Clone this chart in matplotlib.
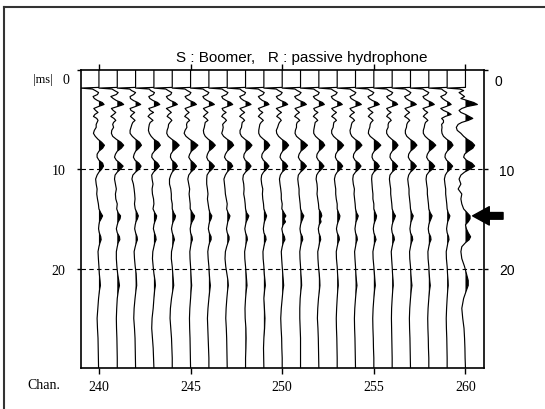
import numpy as np
import matplotlib
matplotlib.use("Agg")
import matplotlib.pyplot as plt
from matplotlib.lines import Line2D

plt.rcParams["font.family"] = ["Liberation Sans", "DejaVu Sans"]

# sample times (ms) shared by all traces
t_ms = [0.0, 1.78, 1.85, 1.95, 2.1, 2.3, 2.5, 2.7, 2.9, 3.1,
        3.3, 3.5, 3.7, 3.9, 4.1, 4.3, 4.5, 4.7, 4.9, 5.1,
        5.3, 5.5, 5.8, 6.1, 6.4, 6.7, 7.0, 7.3, 7.6, 7.9,
        8.2, 8.5, 8.8, 9.1, 9.4, 9.7, 10.0, 10.3, 10.6, 11.0,
        11.5, 12.0, 12.5, 13.0, 13.5, 14.0, 14.4, 14.7, 15.0, 15.3,
        15.6, 16.0, 16.4, 16.8, 17.1, 17.4, 17.8, 18.3, 19.0, 19.8,
        20.5, 21.2, 21.7, 22.2, 23.0, 24.0, 25.0, 26.0, 27.0, 28.0,
        29.0, 30.0]

# trace amplitudes in hundredths of a channel spacing
trace_240 = [0, 0, -100, -35, -20, -2, -8, -32, -25, -8,
             18, 28, -2, -28, -18, -5, -22, -30, -12, -5,
             -10, -15, -15, -25, -30, -20, -5, 15, 30, 20,
             0, -10, -10, 0, 20, 25, 15, 0, -10, -18,
             -15, -10, -12, -8, -3, 0, 10, 20, 12, 3,
             0, -2, 2, 10, 12, 6, 0, -5, -3, 0,
             2, 6, 8, 3, -2, -6, -10, -8, -5, -4,
             -3, -2]
trace_241 = [0, 0, -100, -28, -15, 5, -5, -35, -22, -5,
             22, 35, 2, -32, -22, -8, -20, -35, -18, -8,
             -20, -25, -20, -30, -32, -25, -5, 20, 35, 22,
             0, -10, -15, -5, 15, 32, 18, 0, -12, -15,
             -10, -5, -10, -8, 0, -3, 5, 18, 15, 5,
             0, -5, 0, 12, 14, 5, 0, -5, -5, -2,
             2, 8, 12, 6, 0, -3, -5, -4, -2, -1,
             0, 0]
trace_242 = [0, 0, -100, -32, -22, 0, -10, -30, -28, -12,
             12, 28, 0, -30, -25, -5, -18, -28, -15, -3,
             -15, -20, -25, -30, -30, -18, 0, 22, 32, 18,
             0, -8, -12, -3, 18, 30, 20, 0, -15, -20,
             -12, -8, -5, -3, -6, -2, 8, 15, 10, 2,
             -2, -5, 0, 8, 10, 4, -2, -8, -6, -2,
             3, 5, 6, 2, -3, -8, -10, -6, -3, -2,
             -1, 0]
trace_243 = [0, 0, -100, -25, -18, 3, -3, -28, -22, -5,
             20, 32, 5, -28, -20, -2, -22, -32, -18, -5,
             -20, -25, -28, -30, -25, -15, 0, 25, 35, 20,
             2, -10, -12, 0, 20, 30, 15, -2, -12, -10,
             -5, -10, -8, -2, 0, -5, 5, 15, 12, 5,
             0, -3, 3, 10, 12, 5, 0, -6, -8, -4,
             0, 6, 8, 4, 0, -4, -10, -12, -8, -4,
             -2, 0]
trace_244 = [0, 0, -100, -35, -22, -3, -8, -32, -25, -10,
             15, 28, -2, -32, -18, -5, -20, -28, -12, -2,
             -12, -20, -22, -28, -30, -22, -2, 22, 38, 22,
             3, -8, -10, -2, 18, 28, 15, 0, -8, -15,
             -15, -8, -5, -5, 0, 0, 8, 18, 14, 5,
             0, -4, 0, 8, 12, 6, 2, -4, -5, 0,
             3, 6, 8, 3, -4, -10, -12, -8, -4, -2,
             0, 0]
trace_245 = [0, 0, -100, -30, -18, 2, -5, -30, -22, -5,
             20, 32, 0, -30, -22, -8, -22, -32, -15, -5,
             -18, -22, -20, -30, -35, -25, -5, 20, 40, 25,
             5, -5, -10, 0, 18, 32, 20, 2, -10, -15,
             -10, -5, -8, -5, -2, -2, 10, 22, 18, 8,
             2, -2, 0, 8, 10, 4, 0, -4, -3, 0,
             2, 4, 6, 3, 0, -4, -6, -5, -3, -2,
             -1, 0]
trace_246 = [0, 0, -100, -32, -20, 0, -8, -33, -26, -10,
             15, 30, -2, -30, -20, -5, -18, -30, -15, -5,
             -20, -22, -25, -30, -28, -20, -3, 20, 35, 20,
             0, -8, -12, -5, 15, 30, 18, 0, -10, -12,
             -12, -8, -5, -8, -4, 0, 6, 16, 12, 4,
             0, -3, 2, 12, 12, 4, -2, -6, -4, 0,
             2, 5, 8, 5, 0, -5, -8, -6, -4, -2,
             0, 0]
trace_247 = [0, 0, -100, -28, -16, 4, -4, -30, -24, -6,
             18, 30, 2, -28, -22, -6, -22, -30, -14, -4,
             -15, -25, -22, -25, -30, -20, 0, 25, 35, 18,
             0, -10, -15, -5, 20, 30, 15, 0, -10, -18,
             -15, -12, -10, -5, 0, -3, 5, 15, 10, 3,
             0, -4, 0, 10, 10, 4, -3, -10, -12, -8,
             -2, 4, 6, 2, -2, -6, -8, -5, -3, -2,
             -1, 0]
trace_248 = [0, 0, -100, -30, -20, 0, -6, -32, -25, -10,
             16, 30, 0, -30, -20, -5, -20, -32, -15, -5,
             -18, -20, -22, -30, -30, -22, -3, 20, 35, 22,
             2, -8, -10, -2, 18, 30, 18, 0, -12, -15,
             -10, -8, -10, -5, -2, 0, 6, 18, 12, 4,
             0, -4, 0, 8, 10, 4, 0, -5, -4, 0,
             3, 6, 8, 4, 0, -3, -2, 2, 3, 2,
             0, 0]
trace_249 = [0, 0, -100, -30, -18, 2, -5, -30, -22, -8,
             18, 28, -2, -30, -22, -6, -20, -30, -15, -3,
             -15, -22, -25, -28, -28, -20, -2, 20, 32, 20,
             0, -10, -12, -3, 15, 28, 15, -2, -12, -15,
             -12, -6, -8, -6, -2, 0, 8, 15, 10, 3,
             0, -3, 0, 10, 12, 5, 0, -5, -4, 0,
             2, 6, 8, 4, 0, 3, 6, 4, 0, -2,
             -1, 0]
trace_250 = [0, 0, -100, -32, -20, 0, -8, -32, -25, -8,
             18, 30, 0, -32, -20, -4, -20, -30, -14, -5,
             -15, -20, -25, -32, -30, -20, -2, 22, 35, 22,
             2, -8, -12, -3, 18, 30, 18, 0, -10, -15,
             -12, -8, -5, -5, 0, -2, 10, 20, 10, 18,
             5, -2, 2, 12, 15, 6, 0, -5, -3, 0,
             3, 6, 8, 4, 0, -5, -8, -6, -3, -2,
             0, 0]
trace_251 = [0, 0, -100, -30, -18, 3, -6, -32, -24, -6,
             20, 32, 2, -30, -20, -6, -22, -32, -15, -4,
             -18, -22, -22, -28, -30, -22, -3, 20, 38, 22,
             2, -8, -12, -3, 18, 32, 18, 0, -12, -15,
             -12, -8, -8, -5, -2, 0, 8, 18, 12, 5,
             0, -3, 0, 10, 12, 5, 0, -4, -3, 0,
             2, 5, 6, 2, -2, -4, -4, -2, 0, 0,
             0, 0]
trace_252 = [0, 0, -100, -28, -16, 2, -4, -30, -22, -5,
             20, 30, 0, -28, -22, -5, -20, -30, -16, -6,
             -20, -22, -25, -28, -28, -18, 0, 22, 32, 18,
             0, -10, -12, -3, 15, 28, 15, -2, -12, -15,
             -10, -8, -10, -6, -2, 0, 12, 16, 8, 12,
             2, -3, 0, 8, 10, 4, 0, -6, -5, -2,
             2, 5, 6, 3, -2, -6, -8, -5, -3, -2,
             -1, 0]
trace_253 = [0, 0, -100, -32, -20, 0, -8, -32, -26, -10,
             15, 28, -2, -30, -20, -4, -18, -30, -14, -4,
             -18, -20, -22, -30, -30, -20, -2, 20, 35, 22,
             2, -8, -10, -2, 18, 30, 18, 0, -10, -15,
             -12, -8, -8, -5, 0, 0, 8, 15, 12, 5,
             0, -4, 0, 10, 12, 5, 0, -5, -4, 0,
             2, 5, 6, 3, 0, -3, -5, -4, -2, -1,
             0, 0]
trace_254 = [0, 0, -100, -30, -18, 2, -6, -30, -24, -6,
             18, 32, 0, -30, -22, -6, -22, -32, -15, -5,
             -18, -22, -25, -30, -28, -20, -2, 22, 35, 20,
             0, -10, -12, -3, 18, 30, 18, 0, -12, -15,
             -12, -6, -8, -5, -2, 0, 6, 15, 10, 3,
             0, -3, 0, 8, 10, 4, 0, -5, -3, 0,
             2, 5, 8, 4, 0, -4, -6, -5, -3, -2,
             -1, 0]
trace_255 = [0, 0, -100, -32, -20, 0, -8, -32, -25, -8,
             18, 30, -2, -32, -20, -5, -20, -30, -15, -4,
             -15, -20, -22, -28, -30, -20, 0, 22, 38, 22,
             2, -8, -10, -3, 18, 30, 18, 0, -10, -12,
             -10, -8, -5, -5, 0, 0, 8, 15, 12, 5,
             0, -3, 0, 8, 12, 5, 0, -5, -4, 0,
             3, 6, 8, 4, 0, -4, -6, -5, -3, -2,
             0, 0]
trace_256 = [0, 0, -100, -30, -18, 3, -5, -30, -22, -6,
             20, 30, 0, -30, -22, -6, -22, -30, -14, -5,
             -18, -22, -22, -30, -30, -20, -2, 20, 32, 20,
             0, -10, -12, -3, 15, 30, 18, 0, -12, -15,
             -12, -8, -8, -5, -2, 0, 8, 18, 12, 5,
             0, -3, 0, 10, 12, 5, 0, -5, -3, 0,
             2, 5, 6, 3, 0, -3, -4, -3, -2, -1,
             0, 0]
trace_257 = [0, 0, -100, -28, -16, 2, -6, -32, -24, -8,
             18, 32, 2, -30, -20, -5, -20, -32, -15, -4,
             -15, -20, -22, -28, -28, -20, -2, 22, 35, 20,
             0, -10, -12, -3, 18, 32, 18, 0, -10, -15,
             -12, -8, -8, -5, -2, 0, 6, 15, 10, 3,
             0, -3, 0, 10, 12, 5, 0, -5, -4, 0,
             2, 5, 8, 4, 0, -4, -6, -5, -3, -2,
             -1, 0]
trace_258 = [0, 0, -100, -32, -20, 0, -8, -32, -25, -8,
             16, 30, 0, -32, -22, -6, -20, -30, -16, -5,
             -18, -22, -25, -30, -30, -20, -2, 22, 38, 22,
             2, -8, -12, -3, 18, 32, 20, 0, -12, -15,
             -12, -8, -8, -5, -2, 0, 8, 18, 12, 5,
             0, -3, 0, 10, 12, 5, 0, -5, -4, 0,
             2, 5, 8, 4, 0, -4, -6, -5, -3, -2,
             0, 0]
trace_259 = [0, 0, -100, -30, -20, -2, -10, -35, -25, -10,
             10, 22, -5, -35, -20, 5, 22, -10, -30, -20,
             -20, -30, -28, -30, -28, -20, -2, 22, 32, 18,
             0, -10, -12, -3, 15, 30, 18, 0, -10, -15,
             -12, -8, -8, -5, -2, 0, 6, 15, 10, 3,
             0, -3, 0, 8, 10, 4, 0, -5, -4, 0,
             2, 5, 6, 3, 0, -3, -5, -4, -2, -1,
             0, 0]
trace_260 = [0, 0, -100, -30, -10, -35, -20, -5, -25, 10,
             45, 65, 10, -20, -35, -25, 0, 20, 40, 15,
             -20, -40, -50, -45, -25, -10, 10, 35, 50, 40,
             15, -5, -10, 5, 35, 50, 25, -5, -25, -35,
             -25, -40, -20, -25, -20, -10, 10, 25, 25, 15,
             0, 5, 15, 28, 20, 0, -20, -25, -20, -5,
             5, 15, 15, 5, -10, -20, -15, -8, -5, -3,
             -2, 0]

channels = list(range(240, 261))
traces = [trace_240, trace_241, trace_242, trace_243, trace_244, trace_245,
          trace_246, trace_247, trace_248, trace_249, trace_250, trace_251,
          trace_252, trace_253, trace_254, trace_255, trace_256, trace_257,
          trace_258, trace_259, trace_260]
chan_ticks = [240, 245, 250, 255, 260]
time_ticks = [0, 10, 20]
arrow_time = 14.7

fig = plt.figure(figsize=(5.45, 4.1), dpi=100)
ax = fig.add_axes([0.1479, 0.100, 0.7398, 0.7276])

t = np.array(t_ms)
for ch, amp in zip(channels, traces):
    x = ch + np.array(amp) / 100.0
    ax.plot(x, t, color="black", lw=0.85)
    ax.fill_betweenx(t, ch, x, where=x > ch, interpolate=True,
                     color="black", lw=0)

for tt in time_ticks[1:]:
    ax.axhline(tt, color="black", lw=0.8, ls=(0, (4, 3)))

ax.set_xlim(239, 261)
ax.set_ylim(30, 0)
ax.set_xticks(chan_ticks)
ax.set_yticks(time_ticks)
ax.set_yticklabels(["", "10", "20"])
ax.tick_params(axis="x", top=True, bottom=True, direction="out", length=4,
               width=1, labelsize=10, pad=5)
ax.tick_params(axis="y", left=True, right=True, labelleft=True,
               labelright=True, direction="out", length=3, width=1,
               labelsize=10, pad=8)
for lab in ax.get_xticklabels():
    lab.set_fontfamily("Liberation Serif")
for tick in ax.yaxis.get_major_ticks():
    tick.label1.set_fontfamily("Liberation Serif")
    tick.label2.set_fontfamily("Liberation Sans")
for sp in ax.spines.values():
    sp.set_linewidth(1.2)

# the "0" labels sit a little below the top edge
ax.text(238.37, 0.95, "0", ha="right", va="center", fontsize=10,
        family="Liberation Serif", clip_on=False)
ax.text(261.6, 1.1, "0", ha="left", va="center", fontsize=10, clip_on=False)

ax.annotate("", xy=(260.39, arrow_time), xytext=(262.05, arrow_time),
            arrowprops=dict(arrowstyle="simple,head_length=1.0,head_width=1.1,tail_width=0.4",
                            color="black", shrinkA=0, shrinkB=0, mutation_scale=12),
            annotation_clip=False)

fig.text(43 / 545, 1 - 80 / 410, "|ms|", ha="center", va="center",
         fontsize=9, family="Liberation Serif")
fig.text(44 / 545, 1 - 386 / 410, "Chan.", ha="center", va="center",
         fontsize=10, family="Liberation Serif")
fig.text(302 / 545, 1 - 62 / 410, "S : Boomer,   R : passive hydrophone",
         ha="center", va="baseline", fontsize=11)

# page frame (top and left edges)
fig.add_artist(Line2D([4 / 545, 4 / 545], [0, 1 - 8 / 410], color="#333333", lw=1.5))
fig.add_artist(Line2D([4 / 545, 1], [1 - 8 / 410, 1 - 8 / 410], color="#333333", lw=1.5))

fig.savefig("out.png", dpi=100)
